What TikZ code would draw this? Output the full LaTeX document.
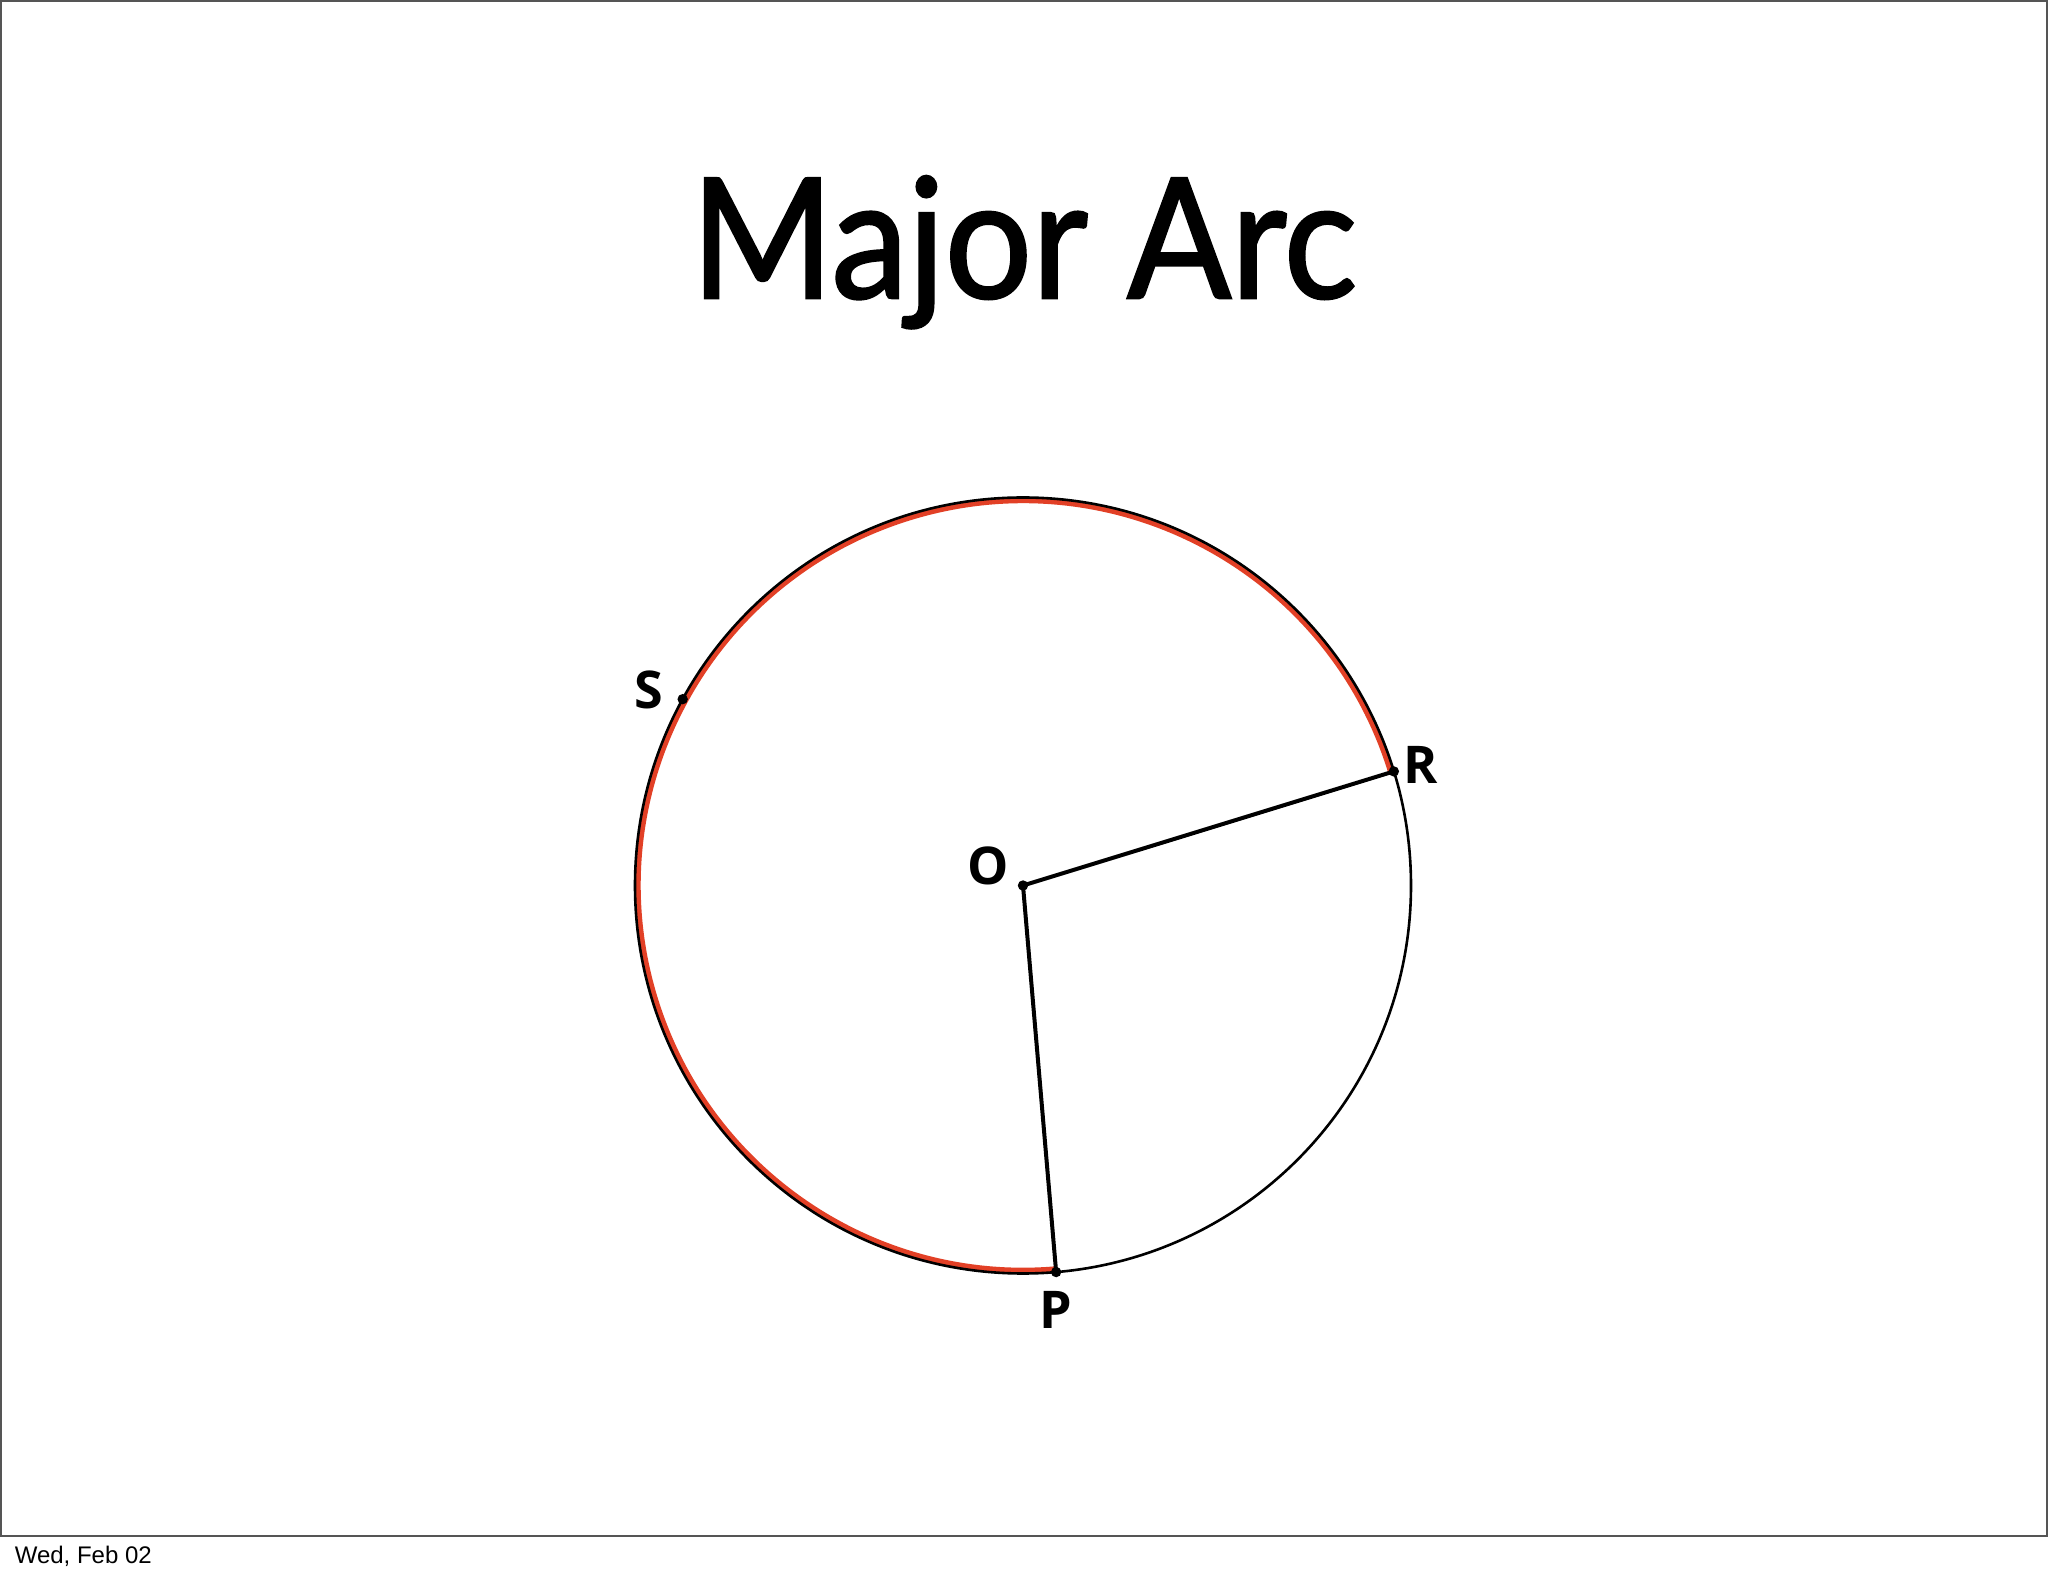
\documentclass[tikz,border=0pt]{standalone}
\usepackage{fontspec}
\setmainfont{Lato}
\newfontfamily\titlefont[FakeBold=1.6]{Lato}
\newfontfamily\footfont{Liberation Sans}
\newfontfamily\labfont{Open Sans}
\usetikzlibrary{calc}
\definecolor{arcred}{RGB}{226,64,38}
\definecolor{framegray}{RGB}{85,85,85}
\begin{document}
\begin{tikzpicture}[x=0.25pt,y=0.25pt,
  lab/.style={font=\labfont\bfseries\fontsize{13}{15}\selectfont, inner sep=0pt},
  dotpt/.style={fill=black, circle, inner sep=0pt, minimum size=2.6pt},
  radius line/.style={line width=1pt, black}]
\useasboundingbox (0,0) rectangle (2048,1576);
\fill[white] (0,0) rectangle (2048,1576);
\draw[framegray, line width=0.55pt] (1,40) rectangle (2047,1575);
\node[anchor=base west, inner sep=0pt, font=\footfont\fontsize{6}{7}\selectfont] (foot) at (14,12) {Wed, Feb 02};
\node[anchor=base, inner sep=0pt] (title) at (1024,1278) {\resizebox{166.5pt}{30.5pt}{\titlefont Major Arc}};
% geometry
\coordinate (O) at (1023,690.5);
\coordinate (R) at ($(O)+(17.1:97pt)$);
\coordinate (P) at ($(O)+(-85.1:97pt)$);
\coordinate (S) at ($(O)+(151.3:97pt)$);
% red major arc
\draw[arcred, line width=1.3pt] ($(O)+(17.1:96.2pt)$) arc[start angle=17.1, end angle=274.9, radius=96.2pt];
% circle
\draw[black, line width=0.65pt] (O) circle[radius=97pt];
% radii
\draw[radius line] (O) -- (R);
\draw[radius line] (O) -- (P);
\node[dotpt] (dO) at (O) {};
\node[dotpt] (dR) at (R) {};
\node[dotpt] (dP) at (P) {};
\node[dotpt] (dS) at (S) {};
\node[lab] (lS) at (649,886) {S};
\node[lab] (lR) at (1421,811) {R};
\node[lab] (lO) at (988,710) {O};
\node[lab] (lP) at (1056,266) {P};
\end{tikzpicture}
\end{document}
